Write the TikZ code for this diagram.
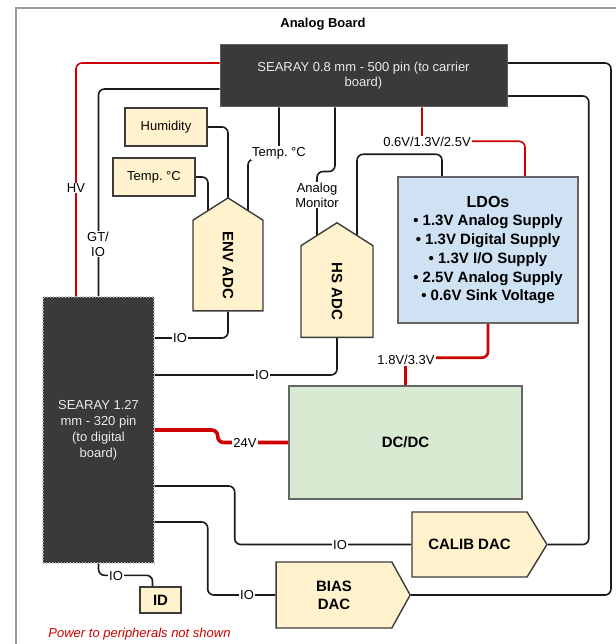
\documentclass[tikz,border=0pt]{standalone}
\usepackage{fontspec}
\setmainfont{Liberation Sans}
\usepackage{tikz}
\usetikzlibrary{positioning, shapes.symbols, backgrounds, calc}
\definecolor{BoardGray}{HTML}{9A9A9A}
\definecolor{ConnDark}{HTML}{3A3A3A}
\definecolor{ConnText}{HTML}{EAEAEA}
\definecolor{ChipCream}{HTML}{FFF2CC}
\definecolor{LdoBlue}{HTML}{CFE2F3}
\definecolor{DcGreen}{HTML}{D9EAD3}
\definecolor{PowerRed}{HTML}{CC0000}
\definecolor{WireBlack}{HTML}{1A1A1A}
\newcommand{\pxfont}[2]{\fontsize{#1}{#2}\selectfont}

\begin{document}
\frenchspacing
\begin{tikzpicture}[
    x=1pt, y=-1pt,
    font=\pxfont{13}{15},
    connector/.style = {
        rectangle, draw=ConnDark!80, line width=1pt,
        fill=ConnDark, text=ConnText, align=center, inner sep=0pt
    },
    chip/.style = {
        rectangle, draw=WireBlack!85, line width=1.4pt,
        fill=ChipCream, inner sep=0pt, align=center
    },
    adc/.style = {
        signal, signal to=north, signal from=nowhere,
        signal pointer angle=115,
        draw=WireBlack!85, line width=1.4pt, fill=ChipCream,
        inner sep=0pt, font=\pxfont{15}{18}\bfseries
    },
    dac/.style = {
        signal, signal to=east, signal from=nowhere,
        draw=WireBlack!85, line width=1.4pt, fill=ChipCream,
        inner sep=0pt, align=center, font=\pxfont{15}{18}\bfseries
    },
    supply/.style = {
        rectangle, draw=black!60, line width=1.4pt,
        inner sep=0pt, align=center, font=\pxfont{15}{18.7}\bfseries
    },
    wirelbl/.style = {fill=white, inner sep=1pt, align=center},
    wire/.style = {draw=WireBlack, line width=1.6pt, rounded corners=6pt},
    rail/.style = {draw=PowerRed, line width=1.6pt, rounded corners=6pt}
]
\useasboundingbox (0,0) rectangle (615,644);

% ===== TITLE =====
\node[font=\pxfont{13}{15}\bfseries] (title) at (323,24) {Analog Board};

% ===== CONNECTORS =====
\node[connector, minimum width=287pt, minimum height=62pt] (carrier) at (363.5,76)
    {SEARAY 0.8 mm - 500 pin (to carrier\\board)};
\node[connector, draw=BoardGray!70, dotted, line width=1.4pt,
      minimum width=111pt, minimum height=266pt, font=\pxfont{13}{16}] (digital) at (98.5,430)
    {SEARAY 1.27\\mm - 320 pin\\(to digital\\board)};

% ===== SENSORS =====
\node[chip, minimum width=82pt, minimum height=38pt] (humid) at (166,127) {Humidity};
\node[chip, minimum width=82pt, minimum height=38pt] (temp) at (154,177) {Temp. °C};

% ===== ADCs =====
\node[adc, minimum width=70pt, minimum height=94pt] (envadc) at (228,265.5)
    {\rotatebox{-90}{ENV ADC}};
\node[adc, minimum width=72pt, minimum height=95pt] (hsadc) at (337,291.5)
    {\rotatebox{-90}{HS ADC}};

% ===== POWER =====
\node[supply, fill=LdoBlue, minimum width=180pt, minimum height=146pt] (ldo) at (488,250)
    {{\pxfont{16}{18.7}LDOs}\\
     • 1.3V Analog Supply\\
     • 1.3V Digital Supply\\
     • 1.3V I/O Supply\\
     • 2.5V Analog Supply\\
     • 0.6V Sink Voltage};
\node[supply, fill=DcGreen, minimum width=233pt, minimum height=113pt] (dcdc) at (405.5,442.5) {DC/DC};

% ===== DACs =====
\node[dac, signal pointer angle=117, minimum width=135pt, minimum height=65pt] (calib) at (469.5,544.5) {CALIB DAC};
\node[dac, signal pointer angle=122, minimum width=134pt, minimum height=66pt] (bias) at (334,595) {BIAS\\DAC};
\node[chip, font=\pxfont{15}{18}\bfseries, minimum width=41pt, minimum height=26pt] (idchip) at (160.5,600) {ID};

\node[text=PowerRed, font=\pxfont{13}{15}\itshape] (note) at (139.5,634) {Power to peripherals not shown};

% ===== WIRE LABELS =====
\node[wirelbl] (hvlbl) at (76,188) {HV};
\node[wirelbl] (gtlbl) at (98,244) {GT/\\IO};
\node[wirelbl] (templbl) at (279,153) {Temp. °C};
\node[wirelbl] (monlbl) at (317,195) {Analog\\Monitor};
\node[wirelbl] (railalbl) at (427,142) {0.6V/1.3V/2.5V};
\node[wirelbl] (railblbl) at (406,360) {1.8V/3.3V};
\node[wirelbl] (vinlbl) at (245,443) {24V};
\node[wirelbl] (envio) at (180,338) {IO};
\node[wirelbl] (hsio) at (262,375) {IO};
\node[wirelbl] (calibio) at (340,545) {IO};
\node[wirelbl] (biasio) at (247,595) {IO};
\node[wirelbl] (idio) at (116,576) {IO};

% ===== WIRES =====
\begin{scope}[on background layer]
\draw[BoardGray, line width=1.6pt] (16,650) -- (16,8) -- (620,8);
% power rails
\draw[rail] ([yshift=13pt]carrier.west) -| ([xshift=-22.5pt]digital.north);
\draw[rail] ([xshift=58.5pt]carrier.south) |- ([xshift=37pt,yshift=35pt]ldo.north) -- ([xshift=37pt]ldo.north);
\draw[rail, line width=2.6pt] (ldo.south) -- ++(0,34) -| (dcdc.north);
\draw[rail, line width=3.6pt] (digital.east) -- ++(63,0) |- (dcdc.west);
% signals
\draw[wire] ([yshift=-13pt]carrier.west) -| (digital.north);
\draw[wire] (humid.east) -| (envadc.center);
\draw[wire] (temp.east) -| ([xshift=-20pt]envadc.center);
\draw[wire] (carrier.south -| templbl) -- ([yshift=-6pt]templbl.center) -| ([xshift=20pt]envadc.center);
\draw[wire] ([xshift=-28.5pt]carrier.south) |- ([yshift=10pt]monlbl.north) -- (monlbl |- hsadc.center);
\draw[wire] ([xshift=20pt]hsadc.center) |- ([xshift=-46pt,yshift=22pt]ldo.north) -- ([xshift=-46pt]ldo.north);
\draw[wire] ([yshift=13pt]carrier.east) -| ([xshift=200pt]bias.east) -- (bias.east);
\draw[wire] ([yshift=-20pt]carrier.east) -| ([xshift=41pt]calib.east) -- (calib.east);
\draw[wire] (envadc.south) |- ([yshift=92pt]digital.east);
\draw[wire] (hsadc.south) |- ([yshift=55pt]digital.east);
\draw[wire] ([yshift=-56pt]digital.east) -- ++(80,0) |- (calib.west);
\draw[wire] ([yshift=-92pt]digital.east) -- ++(53,0) |- (bias.west);
\draw[wire] (digital.south) |- ([xshift=-8pt,yshift=11pt]idchip.north) -- ([xshift=-8pt]idchip.north);
\end{scope}
\end{tikzpicture}
\end{document}
